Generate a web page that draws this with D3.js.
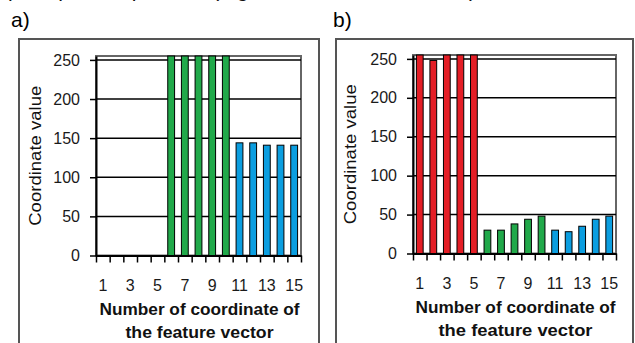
<!DOCTYPE html>
<html><head><meta charset="utf-8">
<script src="https://cdn.jsdelivr.net/npm/d3@7"></script>
<style>
html,body{margin:0;padding:0;background:#fff;overflow:hidden;}
svg{display:block;font-family:Arial,"Liberation Sans",sans-serif;}
</style></head>
<body><svg id="c" width="635" height="343"></svg>
<script>
// ---- data ----
const categories = d3.range(1, 16);
const xTickLabels = [1, 3, 5, 7, 9, 11, 13, 15];
const yTickValues = [0, 50, 100, 150, 200, 250];
const valuesA = [0, 0, 0, 0, 0, 255, 255, 255, 255, 255, 144, 144, 141, 141, 141];
const valuesB = [255, 248, 255, 255, 255, 30, 30, 38, 44, 48, 30, 28, 35, 44, 48];
const colorsA = ["#e41e26","#e41e26","#e41e26","#e41e26","#e41e26","#21a94a","#21a94a","#21a94a","#21a94a","#21a94a","#0b9ee0","#0b9ee0","#0b9ee0","#0b9ee0","#0b9ee0"];
const colorsB = colorsA;
const panelLabels = ["a)", "b)"];
const yTitle = "Coordinate value";
const xTitle = ["Number of coordinate of", "the feature vector"];
const captionText = "principal components (Figures 12a, 12b, 12c, 12d)";

const svg = d3.select("#c");

// clipped caption line at the very top (only descenders visible, as in the reference)
svg.append("text").attr("x", 8).attr("y", -3).attr("font-size", 21).attr("fill", "#111").text(captionText);

function drawPanel(opt) {
  const g = svg.append("g");
  // outer box
  g.append("rect").attr("x", opt.box[0]).attr("y", opt.box[1]).attr("width", opt.box[2]).attr("height", 400)
    .attr("fill", "none").attr("stroke", "#555").attr("stroke-width", 2);
  g.append("text").attr("x", opt.labelX).attr("y", 27).attr("font-size", 21).attr("fill", "#000").text(opt.label);

  const x = d3.scaleBand().domain(categories).range([opt.x0, opt.x1]).paddingInner(0.5).paddingOuter(0.25);
  const xb = d3.scaleLinear().domain([0, 15]).range([opt.x0, opt.x1]);
  const y = d3.scaleLinear().domain([0, 255]).range([opt.y0, opt.yTop]);

  // plot border
  g.append("rect").attr("x", opt.x0).attr("y", opt.yTop).attr("width", opt.x1 - opt.x0).attr("height", opt.y0 - opt.yTop)
    .attr("fill", "none").attr("stroke", "#666").attr("stroke-width", 2);
  // grid
  g.selectAll(".grid").data(yTickValues.filter(d => d > 0)).join("line")
    .attr("x1", opt.x0).attr("x2", opt.x1).attr("y1", d => y(d)).attr("y2", d => y(d))
    .attr("stroke", "#000").attr("stroke-width", 1.5);

  // bars
  g.selectAll(".bar").data(opt.values.map((v, i) => ({c: categories[i], v, col: opt.colors[i]})).filter(d => d.v > 0))
    .join("rect")
    .attr("x", d => x(d.c)).attr("width", x.bandwidth())
    .attr("y", d => y(d.v)).attr("height", d => y(0) - y(d.v))
    .attr("fill", d => d.col).attr("stroke", "#000").attr("stroke-width", 1);

  // y axis
  const ya = g.append("g").attr("transform", `translate(${opt.x0},0)`)
    .call(d3.axisLeft(y).tickValues(yTickValues).tickSize(6).tickSizeOuter(0).tickPadding(10));
  ya.select(".domain").attr("stroke", "#000").attr("stroke-width", 2);
  ya.selectAll(".tick line").attr("stroke", "#000").attr("stroke-width", 1.5);
  ya.selectAll(".tick text").attr("font-size", 16).attr("fill", "#1a1a1a").attr("font-family", "Arial,Liberation Sans,sans-serif");

  // x axis boundary ticks
  const xa = g.append("g").attr("transform", `translate(0,${opt.y0})`)
    .call(d3.axisBottom(xb).ticks(15).tickSize(7).tickSizeOuter(0).tickFormat(""));
  xa.select(".domain").attr("stroke", "#000").attr("stroke-width", 2);
  xa.selectAll(".tick line").attr("stroke", "#000").attr("stroke-width", 1.5);

  // x tick labels
  const xl = g.append("g").attr("transform", `translate(0,${opt.y0})`)
    .call(d3.axisBottom(x).tickValues(xTickLabels).tickSize(0).tickPadding(0));
  xl.select(".domain").remove();
  xl.selectAll(".tick text").attr("y", 35).attr("dy", 0).attr("font-size", 16).attr("fill", "#1a1a1a")
    .attr("font-family", "Arial,Liberation Sans,sans-serif");

  // titles
  const cx = (opt.x0 + opt.x1) / 2 + 1;
  g.append("text").attr("x", cx).attr("y", opt.y0 + 59).attr("text-anchor", "middle")
    .attr("font-size", 16).attr("font-weight", "bold").attr("fill", "#111")
    .attr("textLength", 200).attr("lengthAdjust", "spacingAndGlyphs").text(xTitle[0]);
  g.append("text").attr("x", cx).attr("y", opt.y0 + 82).attr("text-anchor", "middle")
    .attr("font-size", 16).attr("font-weight", "bold").attr("fill", "#111")
    .attr("textLength", opt.t2len).attr("lengthAdjust", "spacingAndGlyphs").text(xTitle[1]);
  g.append("text").attr("transform", `translate(${opt.yTitleX},${(opt.yTop + opt.y0) / 2}) rotate(-90)`)
    .attr("text-anchor", "middle").attr("font-size", 16).attr("fill", "#111")
    .attr("textLength", 140).attr("lengthAdjust", "spacingAndGlyphs").text(yTitle);
}

drawPanel({box: [19, 39, 300], label: panelLabels[0], labelX: 11, x0: 96, x1: 301, yTop: 56, y0: 255.5,
  values: valuesA, colors: colorsA, yTitleX: 41, t2len: 148});
drawPanel({box: [336, 39, 297], label: panelLabels[1], labelX: 333, x0: 413, x1: 616, yTop: 55, y0: 253.5,
  values: valuesB, colors: colorsB, yTitleX: 356, t2len: 154});
</script></body></html>
